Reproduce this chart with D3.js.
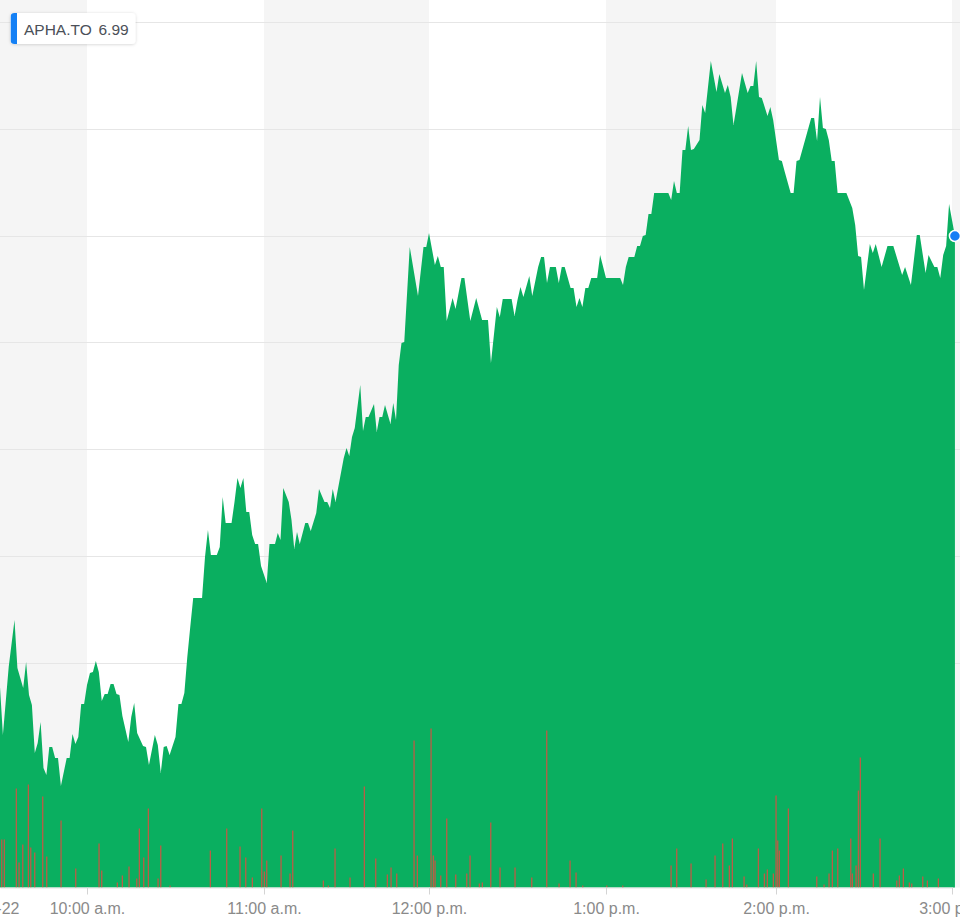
<!DOCTYPE html>
<html>
<head>
<meta charset="utf-8">
<script src="https://cdn.jsdelivr.net/npm/d3@7"></script>
<style>
  html, body { margin: 0; padding: 0; background: #ffffff; }
  svg { display: block; }
  text { font-family: "Liberation Sans", Arial, Helvetica, sans-serif; }
</style>
</head>
<body>
<svg id="chart" width="960" height="921"></svg>
<script>
// ---------------- DATA ----------------
const ticker = "APHA.TO";
const lastPriceLabel = "6.99";
const dateLabel = "03-22";

const priceTimes = ["09:30","09:31","09:33","09:35","09:36","09:38","09:39","09:40","09:41","09:42","09:43","09:44","09:45","09:46","09:47","09:48","09:49","09:50","09:51","09:53","09:54","09:55","09:56","09:57","09:58","09:59",
"10:00","10:01","10:02","10:03","10:04","10:05","10:06","10:07","10:08","10:09","10:10","10:11","10:12","10:14","10:15","10:16","10:17","10:19","10:20","10:21","10:23","10:24","10:25","10:26","10:27","10:28","10:30","10:31","10:32","10:33","10:34","10:35","10:36","10:39","10:40","10:41","10:42","10:44","10:45","10:46","10:47","10:49","10:50","10:51","10:52","10:53","10:54","10:55","10:56","10:57","10:58","10:59",
"11:01","11:02","11:04","11:05","11:06","11:07","11:09","11:10","11:11","11:12","11:13","11:15","11:16","11:17","11:19","11:20","11:22","11:23","11:24","11:25","11:26","11:29","11:30","11:31","11:32","11:33","11:35","11:36","11:37","11:38","11:40","11:41","11:42","11:43","11:44","11:46","11:47","11:48","11:49","11:50","11:51","11:53","11:56","11:58","11:59",
"12:00","12:02","12:03","12:04","12:05","12:06","12:08","12:09","12:11","12:12","12:14","12:16","12:18","12:20","12:21","12:23","12:24","12:25","12:28","12:29","12:30","12:31","12:32","12:34","12:35","12:37","12:38","12:39","12:40","12:41","12:43","12:44","12:45","12:46","12:48","12:49","12:50","12:51","12:52","12:53","12:54","12:55","12:57","12:58",
"13:00","13:05","13:06","13:07","13:08","13:10","13:11","13:12","13:13","13:14","13:15","13:16","13:17","13:22","13:23","13:24","13:25","13:26","13:27","13:28","13:29","13:30","13:31","13:33","13:34","13:35","13:37","13:39","13:40","13:42","13:43","13:44","13:45","13:46","13:48","13:49","13:50","13:51","13:52","13:53","13:54","13:55","13:57","13:58","13:59",
"14:01","14:02","14:03","14:05","14:06","14:07","14:08","14:12","14:13","14:14","14:15","14:16","14:17","14:18","14:19","14:20","14:21","14:24","14:26","14:27","14:28","14:29","14:30","14:32","14:33","14:34","14:36","14:38","14:40","14:43","14:44","14:46","14:48","14:49","14:51","14:52","14:54","14:55","14:56","14:57","14:58","14:59","15:01"];

const priceValues = [6.539,6.491,6.559,6.606,6.558,6.538,6.564,6.531,6.521,6.473,6.483,6.504,6.458,6.451,6.479,6.479,6.468,6.468,6.440,6.468,6.468,6.492,6.482,6.489,6.522,6.522,
6.541,6.553,6.554,6.565,6.554,6.525,6.532,6.532,6.542,6.542,6.532,6.531,6.510,6.484,6.509,6.523,6.493,6.480,6.479,6.461,6.491,6.481,6.453,6.479,6.480,6.471,6.489,6.522,6.522,6.533,6.569,6.599,6.628,6.628,6.669,6.696,6.671,6.671,6.679,6.729,6.703,6.703,6.724,6.748,6.738,6.748,6.714,6.714,6.691,6.682,6.682,6.660,
6.643,6.682,6.682,6.693,6.686,6.738,6.724,6.706,6.677,6.694,6.682,6.703,6.703,6.695,6.713,6.737,6.724,6.724,6.718,6.737,6.724,6.768,6.778,6.770,6.789,6.798,6.841,6.795,6.809,6.809,6.822,6.794,6.809,6.809,6.821,6.802,6.823,6.806,6.861,6.883,6.884,6.979,6.930,6.979,6.979,
6.993,6.961,6.970,6.959,6.959,6.905,6.928,6.917,6.948,6.948,6.905,6.928,6.906,6.906,6.863,6.919,6.909,6.927,6.927,6.910,6.926,6.939,6.929,6.950,6.930,6.959,6.969,6.969,6.943,6.959,6.959,6.943,6.959,6.959,6.938,6.938,6.919,6.928,6.919,6.938,6.938,6.948,6.948,6.971,
6.948,6.948,6.941,6.959,6.969,6.969,6.980,6.980,6.990,6.991,7.012,7.012,7.033,7.033,7.026,7.045,7.033,7.033,7.076,7.076,7.100,7.076,7.077,7.086,7.121,7.113,7.165,7.134,7.152,7.133,7.141,7.129,7.101,7.118,7.153,7.143,7.133,7.140,7.140,7.165,7.129,7.128,7.110,7.119,7.106,
7.066,7.065,7.054,7.033,7.033,7.065,7.066,7.108,7.108,7.085,7.129,7.098,7.097,7.086,7.065,7.065,7.033,7.033,7.018,7.001,6.970,6.969,6.936,6.982,6.973,6.982,6.959,6.980,6.980,6.951,6.959,6.941,6.991,6.991,6.953,6.971,6.959,6.959,6.948,6.971,6.980,7.022,6.990];

const volumeTimes = ["09:30:35","09:31:29","09:35:37","09:36:33","09:37:50","09:39:46","09:40:35","09:41:58","09:44:43","09:46:06","09:51:02","09:56:06",
"10:04:04","10:04:59","10:10:16","10:11:58","10:14:14","10:16:51","10:17:44","10:19:13","10:20:47","10:24:04","10:24:59","10:28:08","10:41:48","10:47:21","10:51:52","10:53:48","10:56:02","10:59:13",
"11:00:07","11:00:59","11:06:11","11:09:27","11:10:26","11:21:34","11:23:23","11:25:49","11:31:16","11:36:28","11:40:37","11:44:50","11:46:11","11:48:15","11:54:33","11:55:45",
"12:00:41","12:01:27","12:02:02","12:03:58","12:06:00","12:09:03","12:12:47","12:13:54","12:17:03","12:18:04","12:20:55","12:24:04","12:29:09","12:34:49","12:39:54","12:44:04","12:47:48","12:49:50","12:52:06",
"13:00:15","13:05:54","13:22:57","13:24:57","13:30:00","13:35:18","13:38:28","13:41:11","13:43:31","13:44:35","13:48:43","13:49:40","13:53:46","13:55:53","13:56:56","13:59:03",
"14:00:00","14:00:35","14:01:08","14:04:12","14:13:53","14:16:22","14:18:04","14:19:12","14:21:02","14:25:28","14:26:01","14:27:17","14:28:04","14:28:44","14:33:10","14:35:28","14:41:09","14:42:02","14:43:24","14:45:27","14:46:16","14:50:01","14:51:35","14:55:20"];

const volumeValues = [48000,48000,99000,25000,43000,103000,40000,35000,91000,31000,67000,19000,
44000,17000,5000,12000,21000,9000,59000,30000,79000,9000,42000,2000,37000,59000,41000,30000,10000,79000,
16000,27000,32000,14000,57000,7000,2000,39000,10000,101000,29000,13000,20000,14000,147000,32000,
159000,32000,27000,12000,69000,13000,14000,32000,4000,5000,65000,20000,20000,10000,157000,4000,27000,15000,2000,
2000,2000,22000,39000,24000,8000,32000,44000,22000,49000,11000,3000,39000,14000,18000,14000,
92000,47000,37000,79000,11000,3000,14000,37000,39000,49000,14000,22000,97000,130000,14000,49000,7000,12000,19000,5000,4000,11000,7000,9000];

const hourTicks = ["10:00","11:00","12:00","13:00","14:00","15:00"];
const hourTickLabels = ["10:00 a.m.","11:00 a.m.","12:00 p.m.","1:00 p.m.","2:00 p.m.","3:00 p.m."];
const shadedHours = ["09:00","11:00","13:00","15:00"];
const gridValues = [7.204, 7.0972, 6.9904, 6.8836, 6.7768, 6.6700, 6.5632];

// ---------------- SETUP ----------------
const W = 960, H = 921;
const plotTop = 0, plotBottom = 887.5;
const parseT = s => {
  const p = s.split(":").map(Number);
  return new Date(2019, 2, 22, p[0], p[1], p[2] || 0);
};

const svg = d3.select("#chart");

const x = d3.scaleTime()
  .domain(["09:30","10:00","11:00","12:00","13:00","14:00","15:00"].map(parseT))
  .range([0, 87, 264, 429, 606, 776, 952]);

const y = d3.scaleLinear().domain([6.3385, 7.204]).range([plotBottom, 22]);
const yVol = d3.scaleLinear().domain([0, 200000]).range([plotBottom, plotBottom - 200]);

const prices = priceTimes.map((t, i) => ({ t: parseT(t), v: priceValues[i] }));
const vols = volumeTimes.map((t, i) => ({ t: parseT(t), v: volumeValues[i] }));

// background bands
svg.append("g").selectAll("rect").data(shadedHours).join("rect")
  .attr("x", d => Math.max(0, x(parseT(d))))
  .attr("width", d => {
    const a = Math.max(0, x(parseT(d)));
    const b = Math.min(W, x(d3.timeHour.offset(parseT(d), 1)));
    return Math.max(0, b - a);
  })
  .attr("y", plotTop)
  .attr("height", plotBottom - plotTop)
  .attr("fill", "#f5f5f5");

// gridlines
svg.append("g").selectAll("line").data(gridValues).join("line")
  .attr("x1", 0).attr("x2", W)
  .attr("y1", d => Math.round(y(d)) + 0.5)
  .attr("y2", d => Math.round(y(d)) + 0.5)
  .attr("stroke", "#e6e6e6").attr("stroke-width", 1);

// area
const area = d3.area()
  .x(d => x(d.t))
  .y0(plotBottom)
  .y1(d => y(d.v));
svg.append("path").datum(prices)
  .attr("d", area)
  .attr("fill", "#0aaf60");

// volume bars
svg.append("g").selectAll("rect").data(vols).join("rect")
  .attr("x", d => x(d.t) - 0.6)
  .attr("width", 1.3)
  .attr("y", d => yVol(d.v))
  .attr("height", d => plotBottom - yVol(d.v))
  .attr("fill", "#bc5c46");

// x axis
const xAxis = d3.axisBottom(x)
  .tickValues(hourTicks.map(parseT))
  .tickFormat((d, i) => hourTickLabels[i])
  .tickSize(7)
  .tickSizeOuter(0);
const gx = svg.append("g").attr("transform", `translate(0,${plotBottom})`).call(xAxis);
gx.select(".domain").attr("stroke", "#e2e2e2");
gx.selectAll(".tick line").attr("stroke", "#d4d4d4");
gx.selectAll(".tick text")
  .attr("y", 26.5).attr("dy", 0)
  .attr("fill", "#8a8a8a")
  .style("font-size", "16px")
  .style("font-family", "'Liberation Sans', Arial, sans-serif");

// date label (first, clipped at left edge)
svg.append("text")
  .attr("x", x(parseT("09:30")) - 21.5)
  .attr("y", plotBottom + 26.5)
  .attr("text-anchor", "start")
  .attr("fill", "#8a8a8a")
  .style("font-size", "16px")
  .text(dateLabel);

// last point marker
const last = prices[prices.length - 1];
svg.append("circle")
  .attr("cx", x(last.t)).attr("cy", y(last.v)).attr("r", 5.5)
  .attr("fill", "#147ef5").attr("stroke", "#ffffff").attr("stroke-width", 1.5);

// label box
const defs = svg.append("defs");
const f = defs.append("filter").attr("id", "sh").attr("x", "-20%").attr("y", "-40%").attr("width", "140%").attr("height", "180%");
f.append("feDropShadow").attr("dx", 0).attr("dy", 0.5).attr("stdDeviation", 1.5).attr("flood-color", "#000").attr("flood-opacity", 0.18);
defs.append("clipPath").attr("id", "boxclip").append("rect")
  .attr("x", 10.5).attr("y", 13).attr("width", 125).attr("height", 31).attr("rx", 4);
const lb = svg.append("g");
lb.append("rect").attr("x", 10.5).attr("y", 13).attr("width", 125).attr("height", 31).attr("rx", 4)
  .attr("fill", "#ffffff").attr("filter", "url(#sh)");
lb.append("rect").attr("x", 10.5).attr("y", 13).attr("width", 6.5).attr("height", 31)
  .attr("fill", "#1480f5").attr("clip-path", "url(#boxclip)");
lb.append("text").attr("x", 24).attr("y", 35).attr("fill", "#4b5058")
  .style("font-size", "15.5px").text(ticker);
lb.append("text").attr("x", 98.5).attr("y", 35).attr("fill", "#4b5058")
  .style("font-size", "15.5px").text(lastPriceLabel);
</script>
</body>
</html>
